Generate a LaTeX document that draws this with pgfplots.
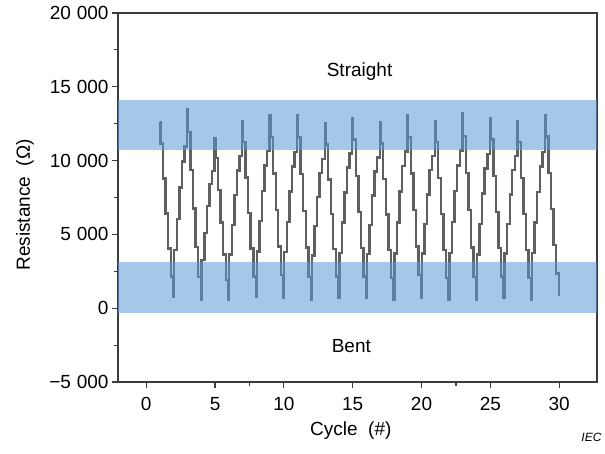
\documentclass[border=0pt]{standalone}
\usepackage{pgfplots}
\pgfplotsset{compat=1.18}
\usepackage{pgfplotstable}
\usepackage{fontspec}
\setmainfont{Liberation Sans}
\definecolor{bandblue}{RGB}{91,155,213}
\definecolor{axgray}{RGB}{60,60,60}
\definecolor{linegray}{RGB}{95,95,95}
\pgfplotstableread{
x y
1 12600
1.03 11170
1.22 8790
1.41 6410
1.59 4040
1.78 2160
1.97 750
2.03 3940
2.22 6060
2.41 8190
2.59 9940
2.78 10950
2.97 13500
3.03 11935
3.22 9345
3.41 6755
3.59 4165
3.78 2115
3.97 550
4.03 3280
4.22 5100
4.41 6920
4.59 8420
4.78 9290
4.97 11500
5.03 10180
5.22 8000
5.41 5810
5.59 3630
5.78 1900
5.97 600
6.03 3630
6.22 5650
6.41 7670
6.59 9340
6.78 10300
6.97 12700
7.03 11250
7.22 8850
7.41 6450
7.59 4050
7.78 2150
7.97 750
8.03 3840
8.22 5900
8.41 7960
8.59 9660
8.78 10640
8.97 13100
9.03 11610
9.22 9130
9.41 6660
9.59 4190
9.78 2230
9.97 700
10.03 3790
10.22 5850
10.41 7910
10.59 9610
10.78 10590
10.97 13100
11.03 11590
11.22 9100
11.41 6600
11.59 4100
11.78 2130
11.97 600
12.03 3570
12.22 5550
12.41 7530
12.59 9160
12.78 10100
12.97 12500
13.03 11080
13.22 8730
13.41 6370
13.59 4020
13.78 2160
13.97 700
14.03 3760
14.22 5800
14.41 7840
14.59 9520
14.78 10490
14.97 12900
15.03 11420
15.22 8970
15.41 6520
15.59 4080
15.78 2140
15.97 700
16.03 3670
16.22 5650
16.41 7630
16.59 9260
16.78 10200
16.97 12600
17.03 11150
17.22 8750
17.41 6350
17.59 3950
17.78 2050
17.97 550
18.03 3700
18.22 5800
18.41 7900
18.59 9630
18.78 10630
18.97 13100
19.03 11610
19.22 9130
19.41 6660
19.59 4190
19.78 2230
19.97 700
20.03 3700
20.22 5700
20.41 7700
20.59 9350
20.78 10300
20.97 12700
21.03 11240
21.22 8810
21.41 6390
21.59 3960
21.78 2040
21.97 600
22.03 3750
22.22 5850
22.41 7950
22.59 9680
22.78 10680
22.97 13200
23.03 11680
23.22 9160
23.41 6640
23.59 4120
23.78 2120
23.97 550
24.03 3640
24.22 5700
24.41 7760
24.59 9460
24.78 10440
24.97 12900
25.03 11420
25.22 8970
25.41 6520
25.59 4080
25.78 2140
25.97 700
26.03 3700
26.22 5700
26.41 7700
26.59 9350
26.78 10300
26.97 12700
27.03 11240
27.22 8810
27.41 6390
27.59 3960
27.78 2040
27.97 600
28.03 3720
28.22 5800
28.41 7880
28.59 9600
28.78 10580
28.97 13100
29.03 11620
29.22 9170
29.41 6720
29.59 4280
29.78 2340
29.97 900
30.03 900
}\resdata
\begin{document}
\begin{tikzpicture}
\begin{axis}[
  name=ax, at={(0,0)}, anchor=south west,
  scale only axis, width=479pt, height=369pt,
  xmin=-2.05, xmax=32.75, ymin=-5000, ymax=20000,
  font=\fontsize{19}{22}\selectfont,
  tick pos=left, tick align=outside,
  major tick length=6pt, minor tick length=4pt,
  scaled ticks=false,
  xtick={0,5,...,30}, minor xtick={7.5,22.5},
  ytick={-5000,0,5000,10000,15000,20000},
  yticklabels={−5\hspace{0.3em}000,0,5\hspace{0.3em}000,10\hspace{0.3em}000,15\hspace{0.3em}000,20\hspace{0.3em}000},
  minor ytick={-2500,2500,7500,12500,17500},
  xticklabel style={/pgf/number format/assume math mode=true, yshift=-6pt},
  axis line style={axgray, line width=1.3pt},
  every tick/.style={axgray, line width=1.2pt},
  every axis x label/.style={at={(axis description cs:0.486,-0.133)}, anchor=center},
  every axis y label/.style={at={(axis description cs:-0.194,0.48)}, rotate=90, anchor=center},
  xlabel={Cycle\ \ (\#)},
  ylabel={Resistance\ \ (Ω)},
  clip=true,
]
\addplot[const plot, color=linegray, line width=2.4pt] table[x=x,y=y]{\resdata};
\addplot[draw=none, fill=bandblue, fill opacity=0.55] coordinates {(-2.05,10700) (32.75,10700) (32.75,14100) (-2.05,14100)} -- cycle;
\addplot[draw=none, fill=bandblue, fill opacity=0.55] coordinates {(-2.05,-340) (32.75,-340) (32.75,3120) (-2.05,3120)} -- cycle;
\node[anchor=center, font=\fontsize{19}{22}\selectfont] at (axis cs:15.5,16000) {Straight};
\node[anchor=center, font=\fontsize{19}{22}\selectfont] at (axis cs:14.9,-2570) {Bent};
\end{axis}
\node[anchor=base east, font=\itshape\fontsize{12}{14}\selectfont] at (487pt,-59pt) {IEC};
\pgfresetboundingbox
\useasboundingbox (-118pt,-71pt) rectangle (487pt,382pt);
\end{tikzpicture}
\end{document}
